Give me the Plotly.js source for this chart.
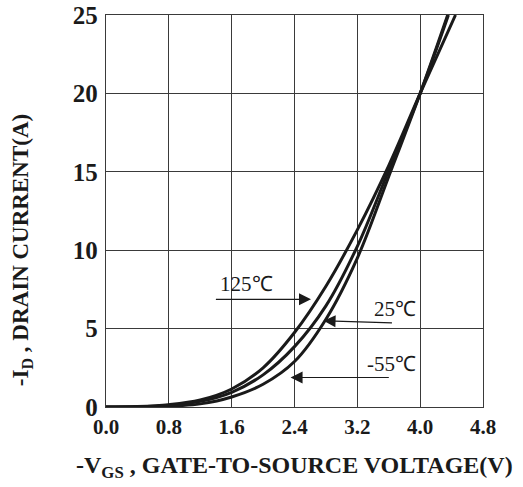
<!DOCTYPE html>
<html>
<head>
<meta charset="utf-8">
<script src="https://cdn.plot.ly/plotly-3.0.1.min.js"></script>
<style>html,body{margin:0;padding:0;background:#fff;}#chart{width:523px;height:487px;}</style>
</head>
<body>
<div id="chart"></div>
<script>
// Data
const vgs125 = [0.0, 0.4, 0.8, 1.2, 1.6, 2.0, 2.4, 2.8, 3.2, 3.6, 4.0, 4.45];
const id125  = [0.0, 0.03, 0.15, 0.45, 1.15, 2.5, 4.75, 7.7, 11.3, 15.4, 20.0, 25];
const vgs25  = [0.0, 0.4, 0.8, 1.2, 1.6, 2.0, 2.4, 2.8, 3.2, 3.6, 4.0, 4.36];
const id25   = [0.0, 0.02, 0.12, 0.36, 0.94, 2.05, 3.85, 6.45, 10.25, 15.1, 20.0, 25];
const vgsM55 = [0.0, 0.4, 0.8, 1.2, 1.6, 2.0, 2.4, 2.8, 3.2, 3.6, 4.0, 4.35];
const idM55  = [0.0, 0.01, 0.05, 0.2, 0.64, 1.45, 2.9, 5.6, 9.5, 14.7, 20.0, 25];

const curveLabels = ['125℃', '25℃', '-55℃'];
// label text left/centre-y and arrow tail / tip in data units
const labelPos  = [[1.43, 7.85], [3.39, 6.25], [3.30, 2.72]];
const arrowTail = [[1.38, 6.87], [3.66, 5.36], [3.62, 1.88]];
const arrowTip  = [[2.61, 6.87], [2.77, 5.50], [2.35, 1.88]];

const xTicks = [0, 0.8, 1.6, 2.4, 3.2, 4.0, 4.8];
const xTickText = ['0.0', '0.8', '1.6', '2.4', '3.2', '4.0', '4.8'];
const yTicks = [0, 5, 10, 15, 20, 25];

const serif = 'Liberation Serif, Times New Roman, serif';
const lineStyle = {color: '#1a1a1a', width: 3, shape: 'spline', smoothing: 1};

const traces = [
  {x: vgs125, y: id125, mode: 'lines', line: lineStyle, name: curveLabels[0], hoverinfo: 'skip'},
  {x: vgs25, y: id25, mode: 'lines', line: lineStyle, name: curveLabels[1], hoverinfo: 'skip'},
  {x: vgsM55, y: idM55, mode: 'lines', line: lineStyle, name: curveLabels[2], hoverinfo: 'skip'}
];

const annotations = [];
for (let i = 0; i < 3; i++) {
  annotations.push({
    x: labelPos[i][0], y: labelPos[i][1], xref: 'x', yref: 'y',
    xanchor: 'left', yanchor: 'middle',
    text: curveLabels[i], showarrow: false,
    font: {family: serif, size: 21, color: '#1a1a1a'}
  });
  annotations.push({
    x: arrowTip[i][0], y: arrowTip[i][1], xref: 'x', yref: 'y',
    ax: arrowTail[i][0], ay: arrowTail[i][1], axref: 'x', ayref: 'y',
    text: '', showarrow: true, arrowhead: 2, arrowsize: 2, arrowwidth: 1.2,
    arrowcolor: '#1a1a1a', standoff: 0, startstandoff: 0
  });
}
annotations.push({
  xref: 'paper', yref: 'paper', x: -0.223, y: 0.40, textangle: -90,
  xanchor: 'center', yanchor: 'middle',
  text: '-I<sub>D</sub> , DRAIN CURRENT(A)', showarrow: false,
  font: {family: serif, size: 23, color: '#1a1a1a', weight: 'bold'}
});
annotations.push({
  xref: 'paper', yref: 'paper', x: 0.5, y: -0.153,
  xanchor: 'center', yanchor: 'middle',
  text: '-V<sub>GS</sub> , GATE-TO-SOURCE VOLTAGE(V)', showarrow: false,
  font: {family: serif, size: 24, color: '#1a1a1a', weight: 'bold'}
});

const layout = {
  width: 523, height: 487,
  margin: {l: 106, r: 40, t: 15, b: 80},
  paper_bgcolor: '#fff', plot_bgcolor: '#fff',
  showlegend: false,
  xaxis: {
    range: [0, 4.8], tickvals: xTicks, ticktext: xTickText,
    showgrid: true, gridcolor: '#3a3a3a', gridwidth: 1,
    showline: true, mirror: true, linecolor: '#3a3a3a', linewidth: 1.2,
    zeroline: false, ticks: '', ticklabelstandoff: 1,
    tickfont: {family: serif, size: 21, color: '#1a1a1a', weight: 'bold'}
  },
  yaxis: {
    range: [0, 25], tickvals: yTicks,
    showgrid: true, gridcolor: '#3a3a3a', gridwidth: 1,
    showline: true, mirror: true, linecolor: '#3a3a3a', linewidth: 1.2,
    zeroline: false, ticks: '', ticklabelstandoff: 2,
    tickfont: {family: serif, size: 25, color: '#1a1a1a', weight: 'bold'}
  },
  annotations: annotations
};

Plotly.newPlot('chart', traces, layout, {staticPlot: true});
</script>
</body>
</html>
